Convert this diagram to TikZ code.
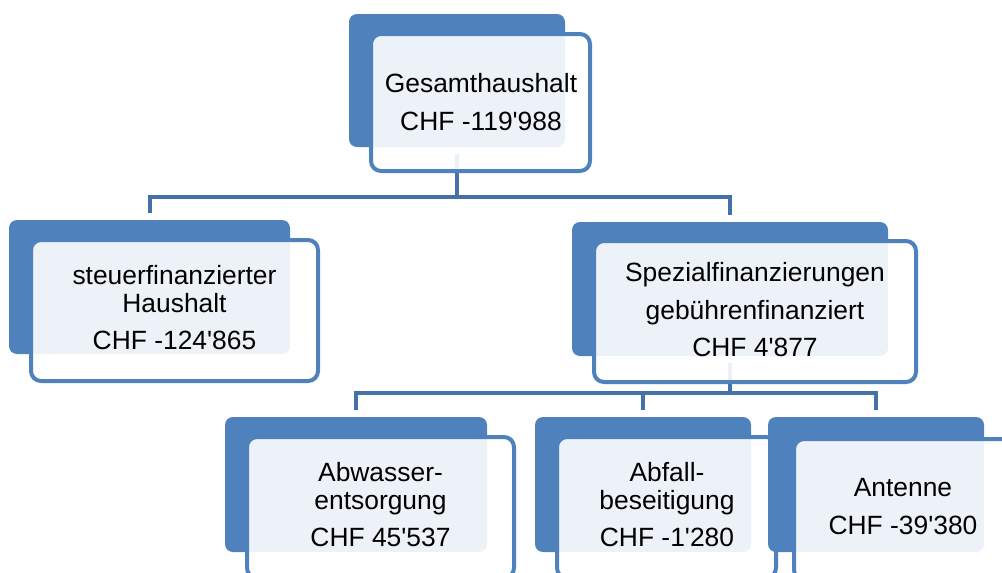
\documentclass[tikz,border=0pt]{standalone}
\usepackage{fontspec}
\setmainfont{Liberation Sans}
\usetikzlibrary{calc}
\definecolor{boxblue}{RGB}{79,129,189}
\definecolor{connblue}{RGB}{68,114,168}
\newcommand{\qs}{\textquotesingle}
\tikzset{
  backbox/.style={fill=boxblue, draw=none, rounded corners=8pt, inner sep=0pt},
  frontbox/.style={fill=white, fill opacity=0.9, draw=boxblue, draw opacity=1, line width=4pt, rounded corners=10pt, inner sep=0pt},
  label/.style={align=center, inner sep=0pt, text=black, font=\fontsize{26.4}{27.5}\selectfont},
  conn/.style={draw=connblue, line width=4pt}
}
\begin{document}
\begin{tikzpicture}[x=1pt,y=-1pt]
\clip (0,0) rectangle (1002,573);
% back boxes as anchors (drawn later), define coordinates first via nodes in a path
\path
  (457,80.5) node[minimum width=216pt, minimum height=133pt, inner sep=0pt] (b1) {}
  (149.5,287) node[minimum width=281pt, minimum height=134pt, inner sep=0pt] (b2) {}
  (730,289) node[minimum width=316pt, minimum height=134pt, inner sep=0pt] (b3) {}
  (356,484.5) node[minimum width=262pt, minimum height=135pt, inner sep=0pt] (b4) {}
  (643,484.5) node[minimum width=216pt, minimum height=135pt, inner sep=0pt] (b5) {}
  (876,484.5) node[minimum width=216pt, minimum height=135pt, inner sep=0pt] (b6) {};
% connectors
\draw[conn] ([yshift=-7pt]b1.south) -- ++(0,43) -| ([yshift=7pt]b2.north);
\draw[conn] ([yshift=-7pt]b1.south) -- ++(0,43) -| ([yshift=7pt]b3.north);
\draw[conn] ([yshift=-7pt]b3.south) -- ++(0,30) -| ([yshift=7pt]b4.north);
\draw[conn] ([yshift=-7pt]b3.south) -- ++(0,30) -| ([yshift=7pt]b5.north);
\draw[conn] ([yshift=-7pt]b3.south) -- ++(0,30) -| ([yshift=7pt]b6.north);
% box 1
\node[backbox, minimum width=216pt, minimum height=133pt] (k1) at (b1) {};
\node[frontbox, minimum width=219pt, minimum height=137pt] (f1) at (480.5,102.5) {};
\node[label] (t1) at (481,102) {Gesamthaushalt\\[10pt]CHF -119\qs988};
% box 2
\node[backbox, minimum width=281pt, minimum height=134pt] (k2) at (b2) {};
\node[frontbox, minimum width=287pt, minimum height=141pt] (f2) at (174.5,310.5) {};
\node[label] (t2) at (174.5,308) {steuerfinanzierter\\Haushalt\\[10pt]CHF -124\qs865};
% box 3
\node[backbox, minimum width=316pt, minimum height=134pt] (k3) at (b3) {};
\node[frontbox, minimum width=322pt, minimum height=141pt] (f3) at (755,311.5) {};
\node[label] (t3) at (755,310) {Spezialfinanzierungen\\[10pt]gebührenfinanziert\\[10pt]CHF 4\qs877};
% box 4
\node[backbox, minimum width=262pt, minimum height=135pt] (k4) at (b4) {};
\node[frontbox, minimum width=267pt, minimum height=141pt] (f4) at (380.5,507.5) {};
\node[label] (t4) at (380.5,505) {Abwasser-\\entsorgung\\[10pt]CHF 45\qs537};
% box 5
\node[backbox, minimum width=216pt, minimum height=135pt] (k5) at (b5) {};
\node[frontbox, minimum width=219pt, minimum height=141pt] (f5) at (666.5,507.5) {};
\node[label] (t5) at (667,505) {Abfall-\\beseitigung\\[10pt]CHF -1\qs280};
% box 6
\node[backbox, minimum width=216pt, minimum height=135pt] (k6) at (b6) {};
\node[frontbox, minimum width=219pt, minimum height=141pt] (f6) at (903.5,509.5) {};
\node[label] (t6) at (903,506.5) {Antenne\\[10pt]CHF -39\qs380};
\end{tikzpicture}
\end{document}
